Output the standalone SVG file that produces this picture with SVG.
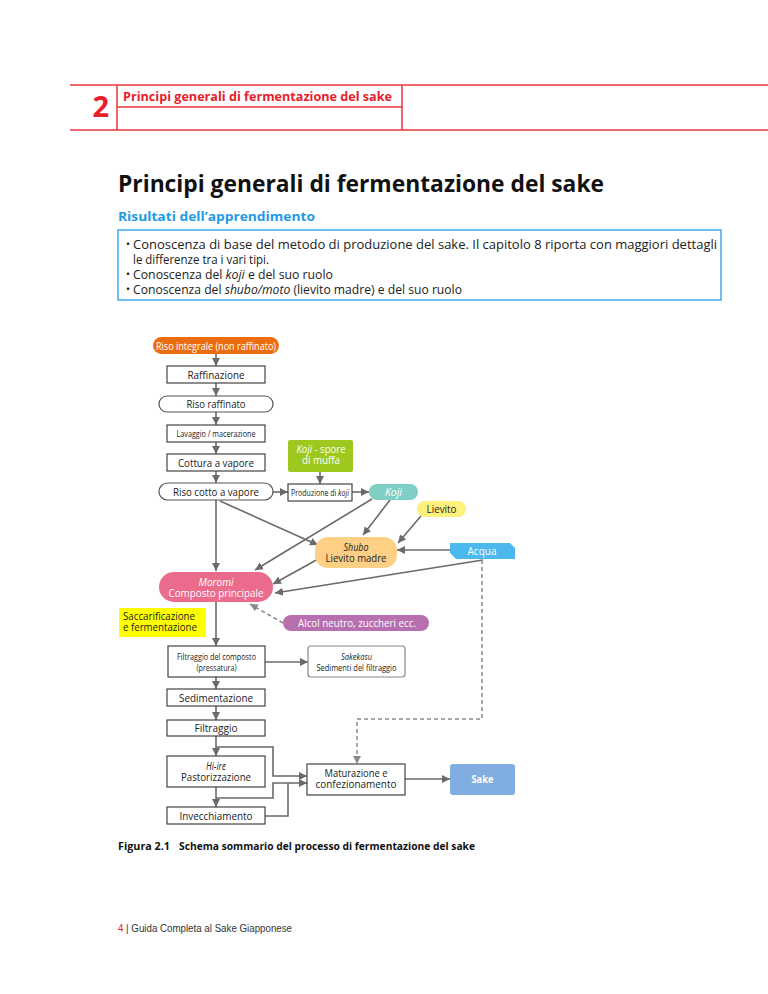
<svg xmlns="http://www.w3.org/2000/svg" width="768" height="994" viewBox="0 0 768 994">
<style>
.hdr{stroke:#e8343b;stroke-width:1.5;fill:none}
.t{font-family:"Open Sans","Noto Sans","Noto Sans CJK JP",sans-serif;fill:#222}
.c{text-anchor:middle}
.w{fill:#fff}
.i{font-style:italic}
.box{fill:#fff;stroke:#444;stroke-width:1.2}
.pill{fill:#fff;stroke:#555;stroke-width:1.2}
.ln{stroke:#6a6a6a;stroke-width:1.6;fill:none}
.ar{stroke:#6a6a6a;stroke-width:1.6;fill:none;marker-end:url(#ah)}
.da{stroke:#8a8a8a;stroke-width:1.5;fill:none;stroke-dasharray:4 3}
</style>
<defs>
<marker id="ah" viewBox="0 0 10 10" refX="10" refY="5" markerWidth="8" markerHeight="8" markerUnits="userSpaceOnUse" orient="auto"><path d="M0,0 L10,5 L0,10 z" fill="#6a6a6a"/></marker>
<marker id="ahd" viewBox="0 0 10 10" refX="10" refY="5" markerWidth="8" markerHeight="8" markerUnits="userSpaceOnUse" orient="auto"><path d="M0,0 L10,5 L0,10 z" fill="#8a8a8a"/></marker>
</defs>
<rect width="768" height="994" fill="#fff"/>

<g id="header">
<line class="hdr" x1="70" y1="85" x2="768" y2="85"/>
<line class="hdr" x1="70" y1="130" x2="768" y2="130"/>
<line class="hdr" x1="117" y1="85" x2="117" y2="130"/>
<line class="hdr" x1="402" y1="85" x2="402" y2="130"/>
<line class="hdr" x1="117" y1="107" x2="402" y2="107"/>
<text class="t" x="109" y="117" text-anchor="end" font-size="29" font-weight="bold" style="fill:#e8202a">2</text>
<text class="t" x="123" y="101" font-size="13" font-weight="bold" style="fill:#e8202a" textLength="269" lengthAdjust="spacingAndGlyphs">Principi generali di fermentazione del sake</text>
</g>

<g id="title">
<text class="t" x="118" y="192" font-size="24" font-weight="bold" style="fill:#111" textLength="486" lengthAdjust="spacingAndGlyphs">Principi generali di fermentazione del sake</text>
<text class="t" x="118" y="221" font-size="13" font-weight="bold" style="fill:#1f9ae6" textLength="197" lengthAdjust="spacingAndGlyphs">Risultati dell’apprendimento</text>
</g>

<g id="outcomes">
<rect x="118" y="230" width="603" height="70" fill="#fff" stroke="#4fb0f0" stroke-width="1.6"/>
<text class="t" x="122" y="249" font-size="12">・</text>
<text class="t" x="133" y="249" font-size="12.5" textLength="584" lengthAdjust="spacingAndGlyphs">Conoscenza di base del metodo di produzione del sake. Il capitolo 8 riporta con maggiori dettagli</text>
<text class="t" x="133" y="264" font-size="12.5" textLength="136" lengthAdjust="spacingAndGlyphs">le differenze tra i vari tipi.</text>
<text class="t" x="122" y="279" font-size="12">・</text>
<text class="t" x="133" y="279" font-size="12.5" textLength="200" lengthAdjust="spacingAndGlyphs">Conoscenza del <tspan class="i">koji</tspan> e del suo ruolo</text>
<text class="t" x="122" y="294" font-size="12">・</text>
<text class="t" x="133" y="294" font-size="12.5" textLength="329" lengthAdjust="spacingAndGlyphs">Conoscenza del <tspan class="i">shubo/moto</tspan> (lievito madre) e del suo ruolo</text>
</g>

<g id="connectors">
<line class="ar" x1="216" y1="354" x2="216" y2="366"/>
<line class="ar" x1="216" y1="383" x2="216" y2="396"/>
<line class="ar" x1="216" y1="412" x2="216" y2="425"/>
<line class="ar" x1="216" y1="442" x2="216" y2="454"/>
<line class="ar" x1="216" y1="471" x2="216" y2="483"/>
<line class="ar" x1="320" y1="472" x2="320" y2="484"/>
<line class="ar" x1="273" y1="492" x2="288" y2="492"/>
<line class="ar" x1="352" y1="492" x2="369" y2="492"/>
<line class="ar" x1="216" y1="500" x2="216" y2="571"/>
<line class="ar" x1="220" y1="501" x2="318" y2="545"/>
<line class="ar" x1="372" y1="499" x2="255" y2="570"/>
<line class="ar" x1="390" y1="500" x2="363" y2="535"/>
<line class="ar" x1="421" y1="516" x2="398" y2="543"/>
<line class="ar" x1="451" y1="550" x2="397" y2="550"/>
<line class="ar" x1="320" y1="558" x2="273" y2="584"/>
<line class="ar" x1="483" y1="560" x2="275" y2="593"/>
<line class="da" x1="283" y1="623" x2="250" y2="604" marker-end="url(#ahd)"/>
<line class="ar" x1="216" y1="602" x2="216" y2="646"/>
<line class="ar" x1="265" y1="662" x2="308" y2="662"/>
<line class="ar" x1="216" y1="677" x2="216" y2="689"/>
<line class="ar" x1="216" y1="706" x2="216" y2="720"/>
<line class="ar" x1="216" y1="736" x2="216" y2="756"/>
<polyline class="ar" points="216,747 273,747 273,776 307,776"/>
<line class="ar" x1="216" y1="787" x2="216" y2="807"/>
<polyline class="ar" points="216,798 273,798 273,783 307,783"/>
<polyline class="ln" points="265,816 288,816 288,783"/>
<line class="ar" x1="405" y1="779" x2="450" y2="779"/>
<polyline class="da" points="482,560 482,719 357,719 357,764" marker-end="url(#ahd)"/>
</g>

<g id="n-riso-integrale">
<rect x="153" y="337" width="126" height="17" rx="8.5" fill="#ec6d0e"/>
<text class="t c w" x="216" y="350" font-size="10.5" textLength="120" lengthAdjust="spacingAndGlyphs">Riso integrale (non raffinato)</text>
</g>
<g id="n-raffinazione">
<rect class="box" x="167" y="366" width="98" height="17"/>
<text class="t c" x="216" y="378.5" font-size="10.5" textLength="57" lengthAdjust="spacingAndGlyphs">Raffinazione</text>
</g>
<g id="n-riso-raffinato">
<rect class="pill" x="159" y="396" width="114" height="16" rx="8"/>
<text class="t c" x="216" y="408" font-size="10.5" textLength="59" lengthAdjust="spacingAndGlyphs">Riso raffinato</text>
</g>
<g id="n-lavaggio">
<rect class="box" x="167" y="425" width="98" height="17"/>
<text class="t c" x="216" y="437" font-size="9.5" textLength="79" lengthAdjust="spacingAndGlyphs">Lavaggio / macerazione</text>
</g>
<g id="n-cottura">
<rect class="box" x="167" y="454" width="98" height="17"/>
<text class="t c" x="216" y="466.5" font-size="10.5" textLength="76" lengthAdjust="spacingAndGlyphs">Cottura a vapore</text>
</g>
<g id="n-riso-cotto">
<rect class="pill" x="159" y="483" width="114" height="17" rx="8.5"/>
<text class="t c" x="216" y="495.5" font-size="10.5" textLength="86" lengthAdjust="spacingAndGlyphs">Riso cotto a vapore</text>
</g>
<g id="n-koji-spore">
<rect x="288" y="440" width="65" height="32" rx="2" fill="#9dc81d"/>
<text class="t c w" x="321" y="453" font-size="10" textLength="49" lengthAdjust="spacingAndGlyphs"><tspan class="i">Koji</tspan> - spore</text>
<text class="t c w" x="321" y="464" font-size="10" textLength="38" lengthAdjust="spacingAndGlyphs">di muffa</text>
</g>
<g id="n-produzione">
<rect class="box" x="288" y="484" width="64" height="17"/>
<text class="t c" x="320" y="495.5" font-size="9" textLength="58" lengthAdjust="spacingAndGlyphs">Produzione di <tspan class="i">koji</tspan></text>
</g>
<g id="n-koji">
<rect x="369" y="484" width="49" height="16" rx="8" fill="#7fcfc4"/>
<text class="t c w i" x="393.5" y="496" font-size="10.5" textLength="17" lengthAdjust="spacingAndGlyphs">Koji</text>
</g>
<g id="n-lievito">
<rect x="417" y="501" width="49" height="16" rx="8" fill="#fff27c"/>
<text class="t c" x="441.5" y="513" font-size="10.5" textLength="30" lengthAdjust="spacingAndGlyphs">Lievito</text>
</g>
<g id="n-shubo">
<rect x="315" y="537" width="82" height="31" rx="13" fill="#fdd086"/>
<text class="t c i" x="356" y="551" font-size="10" textLength="25" lengthAdjust="spacingAndGlyphs">Shubo</text>
<text class="t c" x="356" y="562" font-size="10" textLength="61" lengthAdjust="spacingAndGlyphs">Lievito madre</text>
</g>
<g id="n-acqua">
<polygon points="450,543 510,543 515,548 515,559 456,559 450,553" fill="#4cb9ee"/>
<text class="t c w" x="482" y="555" font-size="10.5" textLength="29" lengthAdjust="spacingAndGlyphs">Acqua</text>
</g>
<g id="n-moromi">
<rect x="159" y="572" width="114" height="30" rx="15" fill="#ea6b8c"/>
<text class="t c w i" x="216" y="585.5" font-size="10" textLength="35" lengthAdjust="spacingAndGlyphs">Moromi</text>
<text class="t c w" x="216" y="596.5" font-size="10" textLength="95" lengthAdjust="spacingAndGlyphs">Composto principale</text>
</g>
<g id="n-saccarificazione">
<rect x="119" y="608" width="87" height="29" fill="#ffff00"/>
<text class="t" x="123" y="620" font-size="10" textLength="72" lengthAdjust="spacingAndGlyphs">Saccarificazione</text>
<text class="t" x="123" y="631" font-size="10" textLength="74" lengthAdjust="spacingAndGlyphs">e fermentazione</text>
</g>
<g id="n-alcol">
<rect x="283" y="615" width="146" height="16" rx="8" fill="#b76fb0"/>
<text class="t c w" x="357" y="627" font-size="10.5" textLength="118" lengthAdjust="spacingAndGlyphs">Alcol neutro, zuccheri ecc.</text>
</g>
<g id="n-filtraggio-composto">
<rect class="box" x="168" y="646" width="97" height="31"/>
<text class="t c" x="216.5" y="659.5" font-size="9" textLength="79" lengthAdjust="spacingAndGlyphs">Filtraggio del composto</text>
<text class="t c" x="216.5" y="670.5" font-size="9" textLength="40" lengthAdjust="spacingAndGlyphs">(pressatura)</text>
</g>
<g id="n-sakekasu">
<rect x="308" y="646" width="97" height="31" rx="3" fill="#fff" stroke="#888" stroke-width="1.2"/>
<text class="t c i" x="356.5" y="659.5" font-size="9" textLength="31" lengthAdjust="spacingAndGlyphs">Sakekasu</text>
<text class="t c" x="356.5" y="670.5" font-size="9" textLength="80" lengthAdjust="spacingAndGlyphs">Sedimenti del filtraggio</text>
</g>
<g id="n-sedimentazione">
<rect class="box" x="167" y="689" width="98" height="17"/>
<text class="t c" x="216" y="701.5" font-size="10.5" textLength="74" lengthAdjust="spacingAndGlyphs">Sedimentazione</text>
</g>
<g id="n-filtraggio">
<rect class="box" x="167" y="720" width="98" height="16"/>
<text class="t c" x="216" y="732" font-size="10.5" textLength="43" lengthAdjust="spacingAndGlyphs">Filtraggio</text>
</g>
<g id="n-hiire">
<rect class="box" x="167" y="756" width="98" height="31"/>
<text class="t c i" x="216" y="770" font-size="10" textLength="20" lengthAdjust="spacingAndGlyphs">Hi-ire</text>
<text class="t c" x="216" y="781" font-size="10" textLength="70" lengthAdjust="spacingAndGlyphs">Pastorizzazione</text>
</g>
<g id="n-invecchiamento">
<rect class="box" x="167" y="807" width="98" height="17"/>
<text class="t c" x="216" y="819.5" font-size="10.5" textLength="73" lengthAdjust="spacingAndGlyphs">Invecchiamento</text>
</g>
<g id="n-maturazione">
<rect class="box" x="307" y="764" width="98" height="31"/>
<text class="t c" x="356" y="777" font-size="10" textLength="63" lengthAdjust="spacingAndGlyphs">Maturazione e</text>
<text class="t c" x="356" y="788" font-size="10" textLength="81" lengthAdjust="spacingAndGlyphs">confezionamento</text>
</g>
<g id="n-sake">
<rect x="450" y="764" width="65" height="31" rx="3" fill="#80aee0"/>
<text class="t c w" x="482.5" y="783" font-size="10.5" font-weight="bold" textLength="22" lengthAdjust="spacingAndGlyphs">Sake</text>
</g>

<g id="caption">
<text class="t" x="118" y="850" font-size="11" font-weight="bold" style="fill:#111" textLength="52" lengthAdjust="spacingAndGlyphs">Figura 2.1</text>
<text class="t" x="179" y="850" font-size="11" font-weight="bold" style="fill:#111" textLength="296" lengthAdjust="spacingAndGlyphs">Schema sommario del processo di fermentazione del sake</text>
</g>
<g id="footer">
<text x="118" y="932" font-family="Liberation Sans, Arial, sans-serif" font-size="10" fill="#333" textLength="174" lengthAdjust="spacingAndGlyphs"><tspan fill="#e8202a">4</tspan> | Guida Completa al Sake Giapponese</text>
</g>
</svg>
